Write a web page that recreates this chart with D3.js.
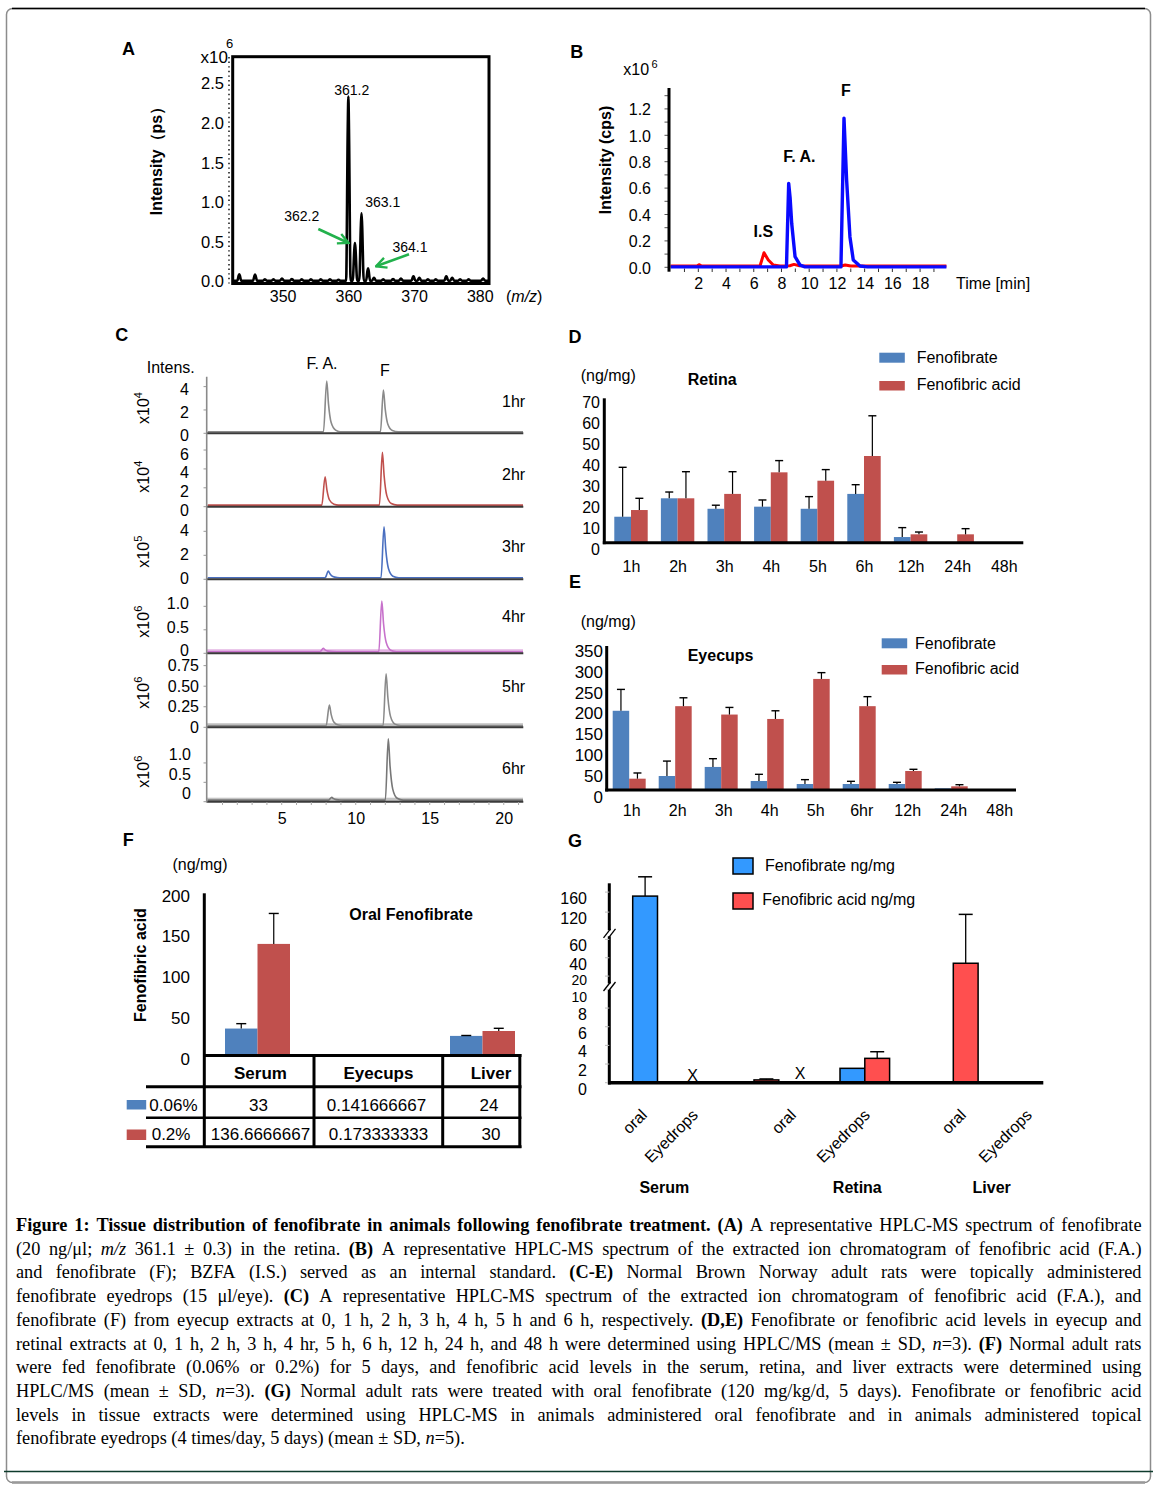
<!DOCTYPE html>
<html>
<head>
<meta charset="utf-8">
<script src="https://cdn.jsdelivr.net/npm/d3@7/dist/d3.min.js"></script>
<style>
html,body{margin:0;padding:0;background:#fff;}
svg{display:block;}
</style>
</head>
<body>
<script>
// ================= DATA =================
// Panel A: mass spectrum (m/z, intensity x10^6)
const aPeakMz  = [343.4, 345.8, 347.3, 348.6, 349.9, 351.4, 352.9, 354.3, 355.8, 357.2, 358.5, 360.0, 361.0, 362.0, 363.0, 363.9, 365.3, 366.8, 368.0, 369.9, 370.8, 372.1, 373.3, 374.9, 375.8, 377.0, 378.3, 380.5];
const aPeakInt = [0.085, 0.08, 0.02, 0.02, 0.03, 0.025, 0.02, 0.02, 0.02, 0.02, 0.015, 2.33, 0.48, 0.855, 0.16, 0.04, 0.02, 0.025, 0.03, 0.06, 0.04, 0.02, 0.02, 0.06, 0.04, 0.02, 0.02, 0.03];
const aYTicks = [0.0, 0.5, 1.0, 1.5, 2.0, 2.5];
const aXTicks = [350, 360, 370, 380];
const aAnnotations = ["361.2", "363.1", "362.2", "364.1"];

// Panel B: extracted ion chromatogram (time min, intensity x10^6)
const bXTicks = [2, 4, 6, 8, 10, 12, 14, 16, 18];
const bYTicks = [0.0, 0.2, 0.4, 0.6, 0.8, 1.0, 1.2];
const bBlueTime = [0, 8.36, 8.52, 8.62, 8.74, 8.98, 9.34, 9.7, 12.29, 12.51, 12.7, 12.94, 13.18, 13.66, 14.2, 19.9];
const bBlueInt  = [0.003, 0.003, 0.636, 0.53, 0.33, 0.08, 0.017, 0.003, 0.003, 1.13, 0.66, 0.23, 0.055, 0.01, 0.003, 0.003];
const bRedTime  = [0, 1.9, 2.05, 2.25, 6.45, 6.74, 7.05, 7.41, 7.89, 8.6, 8.9, 9.3, 12.3, 12.6, 13.0, 19.9];
const bRedInt   = [0.01, 0.01, 0.02, 0.01, 0.01, 0.11, 0.055, 0.017, 0.01, 0.012, 0.022, 0.012, 0.01, 0.018, 0.01, 0.01];
const bPeakLabels = ["I.S", "F. A.", "F"];

// Panel C: chromatograms at each time point
const cHours = ["1hr", "2hr", "3hr", "4hr", "5hr", "6hr"];
const cExponent = ["4", "4", "5", "6", "6", "6"];
const cTicks = [[0, 2, 4], [0, 2, 4, 6], [0, 2, 4], [0, 0.5, 1.0], [0, 0.25, 0.5, 0.75], [0, 0.5, 1.0]];
const cTickLabels = [["0", "2", "4"], ["0", "2", "4", "6"], ["0", "2", "4"], ["0", "0.5", "1.0"], ["0", "0.25", "0.50", "0.75"], ["0", "0.5", "1.0"]];
const cAxisMax = [4.85, 7.77, 6.05, 1.575, 0.9, 1.92];
const cFATime = [8.04, 7.93, 8.15, 7.81, 8.22, 8.38];
const cFAHeight = [4.34, 3.0, 0.55, 0.07, 0.25, 0.07];
const cFTime = [11.87, 11.8, 11.91, 11.76, 12.05, 12.2];
const cFHeight = [3.57, 5.58, 4.25, 1.08, 0.63, 1.58];
const cXTicks = [5, 10, 15, 20];

// Panel D: Retina (ng/mg)
const dCats = ["1h", "2h", "3h", "4h", "5h", "6h", "12h", "24h", "48h"];
const dFeno    = [12.4, 21.2, 16.2, 17.2, 16.2, 23.3, 2.7, 0.3, 0];
const dFenoSD  = [23.6, 3.0, 1.7, 3.2, 5.8, 4.4, 4.5, 0, 0];
const dAcid    = [15.6, 21.2, 23.3, 33.6, 29.6, 41.4, 4.0, 4.0, 0];
const dAcidSD  = [5.6, 12.7, 10.6, 5.6, 5.3, 19.2, 1.1, 2.7, 0];
const dYTicks = [0, 10, 20, 30, 40, 50, 60, 70];

// Panel E: Eyecups (ng/mg)
const eCats = ["1h", "2h", "3h", "4h", "5h", "6hr", "12h", "24h", "48h"];
const eFeno   = [189, 33.4, 55, 21.5, 14.3, 14.3, 14.3, 4, 0];
const eFenoSD = [51, 35.6, 19.7, 15.9, 10.4, 6.4, 4, 0, 0];
const eAcid   = [27, 200, 180, 169.5, 265, 200, 45.3, 8.8, 0];
const eAcidSD = [13.6, 20, 17, 19.5, 15, 22.7, 4.1, 3.9, 0];
const eYTicks = [0, 50, 100, 150, 200, 250, 300, 350];

// Panel F: Oral fenofibrate, fenofibric acid (ng/mg)
const fTissues = ["Serum", "Eyecups", "Liver"];
const fDoses = ["0.06%", "0.2%"];
const fLow    = [33, 0.141666667, 24];
const fLowSD  = [6, 0, 0.5];
const fHigh   = [136.6666667, 0.173333333, 30];
const fHighSD = [37.3, 0, 3.3];
const fYTicks = [0, 50, 100, 150, 200];

// Panel G: oral vs eyedrops (ng/mg); null = not shown
const gTissues = ["Serum", "Retina", "Liver"];
const gRoutes = ["oral", "Eyedrops", "oral", "Eyedrops", "oral", "Eyedrops"];
const gFeno    = [152, null, null, 1.54, null, null];
const gFenoSD  = [38.6, 0, 0, 0, 0, 0];
const gAcid    = [null, null, 0.3, 2.61, 34, null];
const gAcidSD  = [0, 0, 0.1, 0.71, 81, 0];
const gNotDetected = [1, 2];
const gYTicks = [0, 2, 4, 6, 8, 10, 20, 40, 60, 120, 160];
const gLegend = ["Fenofibrate ng/mg", "Fenofibric acid ng/mg"];

// Caption (** bold, _ italic)
const capLines = [
  "**Figure 1: Tissue distribution of fenofibrate in animals following fenofibrate treatment. (A)** A representative HPLC-MS spectrum of fenofibrate",
  "(20 ng/μl; _m/z_ 361.1 ± 0.3) in the retina. **(B)** A representative HPLC-MS spectrum of the extracted ion chromatogram of fenofibric acid (F.A.)",
  "and fenofibrate (F); BZFA (I.S.) served as an internal standard. **(C-E)** Normal Brown Norway adult rats were topically administered",
  "fenofibrate eyedrops (15 μl/eye). **(C)** A representative HPLC-MS spectrum of the extracted ion chromatogram of fenofibric acid (F.A.), and",
  "fenofibrate (F) from eyecup extracts at 0, 1 h, 2 h, 3 h, 4 h, 5 h and 6 h, respectively. **(D,E)** Fenofibrate or fenofibric acid levels in eyecup and",
  "retinal extracts at 0, 1 h, 2 h, 3 h, 4 hr, 5 h, 6 h, 12 h, 24 h, and 48 h were determined using HPLC/MS (mean ± SD, _n_=3). **(F)** Normal adult rats",
  "were fed fenofibrate (0.06% or 0.2%) for 5 days, and fenofibric acid levels in the serum, retina, and liver extracts were determined using",
  "HPLC/MS (mean ± SD, _n_=3). **(G)** Normal adult rats were treated with oral fenofibrate (120 mg/kg/d, 5 days). Fenofibrate or fenofibric acid",
  "levels in tissue extracts were determined using HPLC-MS in animals administered oral fenofibrate and in animals administered topical",
  "fenofibrate eyedrops (4 times/day, 5 days) (mean ± SD, _n_=5)."
];

// ================= DRAWING =================
const FONT = '"Liberation Sans", Arial, Helvetica, sans-serif';
const SERIF = '"Liberation Serif", "DejaVu Serif", "Times New Roman", serif';
const BLUE = "#4f81bd", RED = "#c0504d";

const svg = d3.select("body").append("svg")
  .attr("width", 1162).attr("height", 1490)
  .attr("font-family", FONT);

function T(parent, x, y, s, o = {}) {
  const t = parent.append("text").attr("x", x).attr("y", y)
    .attr("dy", o.dy !== undefined ? o.dy : "0.36em")
    .attr("font-size", o.size || 16)
    .attr("font-family", o.family || FONT)
    .attr("text-anchor", o.anchor || "start")
    .attr("fill", o.fill || "#000")
    .text(s);
  if (o.bold) t.attr("font-weight", "bold");
  if (o.italic) t.attr("font-style", "italic");
  if (o.rotate !== undefined) t.attr("transform", `rotate(${o.rotate},${x},${y})`);
  return t;
}
function L(parent, x1, y1, x2, y2, color, w, extra) {
  const l = parent.append("line").attr("x1", x1).attr("y1", y1).attr("x2", x2).attr("y2", y2)
    .attr("stroke", color || "#000").attr("stroke-width", w || 1);
  if (extra) extra(l);
  return l;
}
function styleAxis(g, size, bottom) {
  g.attr("font-family", FONT).attr("font-size", size);
  g.select(".domain").remove();
  g.selectAll(".tick line").remove();
  const t = g.selectAll(".tick text").attr("fill", "#000").attr("font-family", FONT)
    .attr("font-size", size).attr("dy", "0.36em");
  if (bottom) t.attr("y", 0); else t.attr("x", 0);
  return g;
}

// ---------- Frame ----------
svg.append("rect").attr("x", 6.5).attr("y", 8.5).attr("width", 1144).attr("height", 1474)
  .attr("rx", 6).attr("fill", "none").attr("stroke", "#8c8c8c").attr("stroke-width", 1.5);
L(svg, 12, 8.5, 1145, 8.5, "#000", 1.6);
L(svg, 12, 1482.5, 1145, 1482.5, "#9a9a9a", 2.5);
L(svg, 4, 1471.5, 1153, 1471.5, "#0e3b2c", 1.6);

// ---------- Panel letters ----------
[["A", 128.5, 49], ["B", 576.7, 51.7], ["C", 121.7, 335], ["D", 575, 336.7], ["E", 575, 581.7], ["F", 128.3, 840], ["G", 575, 841]]
  .forEach(p => T(svg, p[1], p[2], p[0], { size: 18, bold: true, anchor: "middle" }));

// ---------- Panel A ----------
(function () {
  const g = svg.append("g");
  const x = d3.scaleLinear().domain([342.4, 381.4]).range([232.7, 489]);
  const y = d3.scaleLinear().domain([0, 2.5]).range([281, 83]);
  const pts = [[342.6, 0.004]];
  aPeakMz.forEach((m, i) => {
    const h = aPeakInt[i], w = h > 0.3 ? 0.34 : 0.3;
    pts.push([m - w, 0.004], [m - w * 0.28, h * 0.82], [m, h], [m + w * 0.28, h * 0.82], [m + w, 0.004]);
  });
  pts.push([381.3, 0.004]);
  g.append("path").attr("d", d3.line().x(d => x(d[0])).y(d => y(d[1])).curve(d3.curveMonotoneX)(pts))
    .attr("fill", "none").attr("stroke", "#000").attr("stroke-width", 2.6).attr("stroke-linejoin", "round");
  g.append("rect").attr("x", 232.7).attr("y", 56.7).attr("width", 256.3).attr("height", 226.8)
    .attr("fill", "none").attr("stroke", "#000").attr("stroke-width", 3);
  L(g, 229, 57, 229, 283.5, "#000", 1.4, l => l.attr("stroke-dasharray", "1.4,3.2"));
  const ya = g.append("g").attr("transform", "translate(224,0)")
    .call(d3.axisLeft(y).tickValues(aYTicks).tickFormat(d3.format(".1f")).tickSize(0));
  styleAxis(ya, 16.5);
  const xa = g.append("g").attr("transform", "translate(0,296.7)")
    .call(d3.axisBottom(x).tickValues(aXTicks).tickFormat(d3.format("d")).tickSize(0));
  styleAxis(xa, 16, true);
  const mz = T(g, 506, 296.7, "(", { size: 16 });
  mz.append("tspan").text("m/z").attr("font-style", "italic");
  mz.append("tspan").text(")");
  T(g, 228, 57, "x10", { size: 17, anchor: "end" });
  T(g, 229.5, 43.3, "6", { size: 13, anchor: "middle" });
  T(g, 156.5, 157, "Intensity（ps）", { size: 16, bold: true, anchor: "middle", rotate: -90 });
  const ann = [[351.7, 89.5], [382.7, 202], [301.7, 216], [410, 247.3]];
  aAnnotations.forEach((s, i) => T(g, ann[i][0], ann[i][1], s, { size: 14, anchor: "middle" }));
  const defs = svg.append("defs");
  defs.append("marker").attr("id", "garrow").attr("viewBox", "0 0 10 10").attr("refX", 9).attr("refY", 5)
    .attr("markerWidth", 5).attr("markerHeight", 5).attr("orient", "auto")
    .append("path").attr("d", "M1,1 L9,5 L1,9").attr("fill", "none").attr("stroke", "#22b14c").attr("stroke-width", 1.8);
  L(g, 318.3, 229, 348.5, 243, "#22b14c", 2.6, l => l.attr("marker-end", "url(#garrow)"));
  L(g, 409, 254.3, 376, 266.3, "#22b14c", 2.6, l => l.attr("marker-end", "url(#garrow)"));
})();

// ---------- Panel B ----------
(function () {
  const g = svg.append("g");
  const x = d3.scaleLinear().domain([0, 20]).range([670.6, 947.8]);
  const y = d3.scaleLinear().domain([0, 1.2]).range([267.3, 108.9]);
  d3.range(1, 20).forEach(t => L(g, x(t), 268.5, x(t), 272, "#333", 1));
  d3.range(0, 1.35, 0.1).forEach(v => L(g, 664.5, y(v), 669, y(v), "#555", 1));
  const line = d3.line().x(d => x(d[0])).y(d => y(d[1]));
  g.append("path").attr("d", line(bRedTime.map((t, i) => [t, bRedInt[i]])))
    .attr("fill", "none").attr("stroke", "#ff0000").attr("stroke-width", 3).attr("stroke-linejoin", "round");
  g.append("path").attr("d", line(bBlueTime.map((t, i) => [t, bBlueInt[i]])))
    .attr("fill", "none").attr("stroke", "#0a0aff").attr("stroke-width", 3.4).attr("stroke-linejoin", "round");
  L(g, 669, 88, 669, 271.7, "#000", 3);
  const ya = g.append("g").attr("transform", "translate(651,0)")
    .call(d3.axisLeft(y).tickValues(bYTicks).tickFormat(d3.format(".1f")).tickSize(0));
  styleAxis(ya, 16);
  const xa = g.append("g").attr("transform", "translate(0,283.3)")
    .call(d3.axisBottom(x).tickValues(bXTicks).tickFormat(d3.format("d")).tickSize(0));
  styleAxis(xa, 16, true);
  T(g, 956, 283.3, "Time [min]", { size: 16 });
  T(g, 623.3, 69.5, "x10", { size: 16 });
  T(g, 654.5, 64.3, "6", { size: 11, anchor: "middle" });
  T(g, 605, 160, "Intensity (cps)", { size: 16, bold: true, anchor: "middle", rotate: -90 });
  const lp = [[763.3, 231.7], [799.3, 156], [846, 90.7]];
  bPeakLabels.forEach((s, i) => T(g, lp[i][0], lp[i][1], s, { size: 16, bold: true, anchor: "middle" }));
})();

// ---------- Panel C ----------
(function () {
  const g = svg.append("g");
  const x = d3.scaleLinear().domain([0, 21.3]).range([207.7, 523]);
  const base = [433.3, 506.7, 579.3, 653.3, 727.3, 801.7];
  const top0 = 376.7;
  const colors = ["#8a8a8a", "#c0504d", "#4a6fc0", "#c771cb", "#8a8a8a", "#777777"];
  const bands = [null, null, null, "#e2b0e2", "#bdbdbd", "#c4c4c4"];
  const labShift = [1.7, 3.3, -2, -3.3, -0.6, -9];
  const labRight = [189, 189, 189, 189, 199, 191];
  const hourY = [401.7, 474, 546, 616, 686.7, 768.3];
  const expY = [408, 476.7, 551.7, 621.7, 692.7, 771.7];
  cHours.forEach((h, i) => {
    const yb = base[i], yt = i === 0 ? top0 : base[i - 1];
    const y = d3.scaleLinear().domain([0, cAxisMax[i]]).range([yb, yt]);
    if (bands[i]) g.append("rect").attr("x", 207).attr("y", yb - 4).attr("width", 316).attr("height", 4).attr("fill", bands[i]);
    const fa = cFATime[i], hf = cFAHeight[i], ft = cFTime[i], hF = cFHeight[i];
    const pts = [[0, 0], [fa - 0.22, 0], [fa, hf], [fa + 0.12, 0.55 * hf], [fa + 0.3, 0.18 * hf], [fa + 0.6, 0.03 * hf], [fa + 0.9, 0],
      [ft - 0.2, 0], [ft, hF], [ft + 0.12, 0.55 * hF], [ft + 0.3, 0.18 * hF], [ft + 0.6, 0.03 * hF], [ft + 1.0, 0], [21.3, 0]];
    g.append("path").attr("transform", "translate(0,-1.6)")
      .attr("d", d3.line().x(d => x(d[0])).y(d => y(d[1])).curve(d3.curveMonotoneX)(pts))
      .attr("fill", "none").attr("stroke", colors[i]).attr("stroke-width", 1.6).attr("stroke-linejoin", "round");
    L(g, 206.7, yb, 523.3, yb, "#3a3a3a", 2);
    cTicks[i].forEach(v => L(g, 203.5, y(v), 206.7, y(v), "#999", 1));
    const ya = g.append("g").attr("transform", `translate(${labRight[i]},${labShift[i]})`)
      .call(d3.axisLeft(y).tickValues(cTicks[i]).tickFormat((d, k) => cTickLabels[i][k]).tickSize(0));
    styleAxis(ya, 16);
    T(g, 502, hourY[i], h, { size: 16 });
    const et = g.append("text").attr("transform", `translate(143.3,${expY[i]}) rotate(-90)`)
      .attr("text-anchor", "middle").attr("dy", "0.36em").attr("font-size", 16).attr("font-family", FONT);
    et.append("tspan").text("x10");
    et.append("tspan").text(cExponent[i]).attr("font-size", 11).attr("dy", "-0.6em");
  });
  L(g, 206.7, 376.7, 206.7, 802.5, "#8a8a8a", 1.6);
  d3.range(1, 22).forEach(t => L(g, x(t), 802, x(t), 805, "#aaa", 1));
  const xa = g.append("g").attr("transform", "translate(0,818.3)")
    .call(d3.axisBottom(x).tickValues(cXTicks).tickFormat(d3.format("d")).tickSize(0));
  styleAxis(xa, 16, true);
  T(g, 146.7, 367.7, "Intens.", { size: 16 });
  T(g, 322, 363.3, "F. A.", { size: 16, anchor: "middle" });
  T(g, 385, 370, "F", { size: 16, anchor: "middle" });
})();

// ---------- Panels D & E ----------
function timeBars(o) {
  const g = svg.append("g");
  const x0 = d3.scaleBand().domain(o.cats).range(o.xRange).paddingInner(0.283).paddingOuter(0.15);
  const x1 = d3.scaleBand().domain([0, 1]).range([0, x0.bandwidth()]);
  const y = d3.scaleLinear().domain(o.yDomain).range(o.yRange);
  const series = [o.s1, o.s2], sds = [o.e1, o.e2], cols = [BLUE, RED];
  series.forEach((vals, si) => {
    g.selectAll(null).data(o.cats).join("rect")
      .attr("x", c => x0(c) + x1(si)).attr("width", x1.bandwidth())
      .attr("y", (c, i) => y(vals[i])).attr("height", (c, i) => y(0) - y(vals[i]))
      .attr("fill", cols[si]);
  });
  series.forEach((vals, si) => {
    o.cats.forEach((c, i) => {
      const e = sds[si][i];
      if (!e) return;
      const cx = x0(c) + x1(si) + x1.bandwidth() / 2, yt = y(vals[i] + e);
      L(g, cx, y(vals[i]), cx, yt, "#000", 1.2);
      L(g, cx - 4, yt, cx + 4, yt, "#000", 1.4);
    });
  });
  L(g, o.axisX, o.axisTop, o.axisX, y(0) + 1.5, "#000", 3);
  L(g, o.axisX - 1.5, y(0), o.xEnd, y(0), "#000", 3);
  const ya = g.append("g").attr("transform", `translate(${o.tickRight},${o.labelShift})`)
    .call(d3.axisLeft(y).tickValues(o.ticks).tickSize(0));
  styleAxis(ya, o.tickFont);
  const xa = g.append("g").attr("transform", `translate(${o.catShift},${o.catY})`)
    .call(d3.axisBottom(x0).tickSize(0));
  styleAxis(xa, 16, true);
  const lg = o.legend;
  g.append("rect").attr("x", lg.x).attr("y", lg.y1).attr("width", 25.5).attr("height", 10).attr("fill", BLUE);
  g.append("rect").attr("x", lg.x).attr("y", lg.y2).attr("width", 25.5).attr("height", 9.5).attr("fill", RED);
  T(g, lg.tx, lg.y1 + 4.5, "Fenofibrate", { size: 16 });
  T(g, lg.tx, lg.y2 + 3.5, "Fenofibric acid", { size: 16 });
  T(g, 580.7, o.unitY, "(ng/mg)", { size: 16 });
  T(g, 687.7, o.titleY, o.title, { size: 16, bold: true });
}
timeBars({
  cats: dCats, s1: dFeno, e1: dFenoSD, s2: dAcid, e2: dAcidSD,
  xRange: [607.3, 1027.5], yDomain: [0, 70], yRange: [542.7, 396.1], ticks: dYTicks,
  axisX: 604.3, axisTop: 398.3, xEnd: 1023.3, tickRight: 600, labelShift: 6, tickFont: 16,
  catY: 566, catShift: 0.5,
  legend: { x: 879.3, y1: 352.7, y2: 381, tx: 916.7 }, unitY: 375, title: "Retina", titleY: 379.3
});
timeBars({
  cats: eCats, s1: eFeno, e1: eFenoSD, s2: eAcid, e2: eAcidSD,
  xRange: [605.8, 1020.6], yDomain: [0, 350], yRange: [790, 643.3], ticks: eYTicks,
  axisX: 606.7, axisTop: 646, xEnd: 1016, tickRight: 603, labelShift: 6.7, tickFont: 17,
  catY: 810.7, catShift: 2.5,
  legend: { x: 881.7, y1: 638.3, y2: 665, tx: 915 }, unitY: 621.7, title: "Eyecups", titleY: 655
});

// ---------- Panel F ----------
(function () {
  const g = svg.append("g");
  const y = d3.scaleLinear().domain([0, 200]).range([1055.5, 892.2]);
  const xc = d3.scaleOrdinal().domain(fTissues).range([257.5, 378.3, 482.5]);
  const bw = 32.5;
  const sets = [[fLow, fLowSD, BLUE, -bw], [fHigh, fHighSD, RED, 0]];
  sets.forEach(([vals, sd, col, off]) => {
    g.selectAll(null).data(fTissues).join("rect")
      .attr("x", t => xc(t) + off).attr("width", bw)
      .attr("y", (t, i) => y(vals[i])).attr("height", (t, i) => y(0) - y(vals[i]))
      .attr("fill", col);
    fTissues.forEach((t, i) => {
      if (!sd[i]) return;
      const cx = xc(t) + off + bw / 2, yt = y(vals[i] + sd[i]);
      L(g, cx, y(vals[i]), cx, yt, "#000", 1.2);
      L(g, cx - 5, yt, cx + 5, yt, "#000", 1.4);
    });
  });
  L(g, 204.3, 893.3, 204.3, 1148, "#000", 3);
  const ya = g.append("g").attr("transform", "translate(190,2.8)")
    .call(d3.axisLeft(y).tickValues(fYTicks).tickSize(0));
  styleAxis(ya, 17);
  L(g, 204.3, 1055.5, 521.5, 1055.5, "#000", 3);
  L(g, 146, 1086.7, 521.5, 1086.7, "#000", 3);
  L(g, 146, 1117.7, 521.5, 1117.7, "#000", 2.6);
  L(g, 146, 1146.7, 521.5, 1146.7, "#000", 3);
  [314, 442.7, 519.8].forEach(xv => L(g, xv, 1054, xv, 1148, "#000", 3));
  const colTx = [260.5, 378.5, 491];
  fTissues.forEach((t, i) => {
    T(g, colTx[i], 1073.3, t, { size: 17, bold: true, anchor: "middle" });
    T(g, colTx[i] - 2, 1105, String(fLow[i]), { size: 17, anchor: "middle" });
    T(g, colTx[i], 1134.3, String(fHigh[i]), { size: 17, anchor: "middle" });
  });
  g.append("rect").attr("x", 126.7).attr("y", 1100).attr("width", 19.5).attr("height", 9.5).attr("fill", BLUE);
  g.append("rect").attr("x", 126.7).attr("y", 1129.5).attr("width", 19.5).attr("height", 10.5).attr("fill", RED);
  T(g, 149.3, 1105, fDoses[0], { size: 17 });
  T(g, 151.7, 1134.3, fDoses[1], { size: 17 });
  T(g, 200, 864.3, "(ng/mg)", { size: 16, anchor: "middle" });
  T(g, 411, 914.3, "Oral Fenofibrate", { size: 16, bold: true, anchor: "middle" });
  T(g, 140.7, 965, "Fenofibric acid", { size: 16, bold: true, anchor: "middle", rotate: -90 });
})();

// ---------- Panel G ----------
(function () {
  const g = svg.append("g");
  const GB = "#3399ff", GR = "#ff4f4f";
  const y = d3.scaleLinear().domain([0, 10, 20, 60, 120, 160]).range([1082.7, 989.4, 976.1, 939.4, 912.1, 892.1]);
  const idx = d3.range(gRoutes.length);
  const px = d3.scaleOrdinal().domain(idx).range([632.7, 680, 729.2, 840, 928.5, 985]);
  const bw = 24.8;
  const sets = [[gFeno, gFenoSD, GB, 0], [gAcid, gAcidSD, GR, bw]];
  sets.forEach(([vals, sd, col, off]) => {
    g.selectAll(null).data(idx.filter(i => vals[i] !== null)).join("rect")
      .attr("x", i => px(i) + off).attr("width", bw)
      .attr("y", i => y(vals[i])).attr("height", i => y(0) - y(vals[i]))
      .attr("fill", col).attr("stroke", "#000").attr("stroke-width", 1.5);
    idx.forEach(i => {
      if (vals[i] === null || !sd[i]) return;
      const cx = px(i) + off + bw / 2, yt = y(vals[i] + sd[i]);
      L(g, cx, y(vals[i]), cx, yt, "#000", 1.3);
      L(g, cx - 7, yt, cx + 7, yt, "#000", 1.5);
    });
  });
  L(g, 609.3, 883.3, 609.3, 1084.5, "#000", 3);
  gYTicks.forEach(v => L(g, 605, y(v), 609.3, y(v), "#bbb", 1));
  [933.3, 986.5].forEach(yb => {
    g.append("rect").attr("x", 603).attr("y", yb - 3).attr("width", 14).attr("height", 6).attr("fill", "#fff");
    L(g, 603.5, yb + 4.5, 610.5, yb - 4.5, "#000", 1.3);
    L(g, 608.5, yb + 4.5, 615.5, yb - 4.5, "#000", 1.3);
  });
  L(g, 608, 1082.7, 1043.3, 1082.7, "#000", 3.6);
  const ya = g.append("g").attr("transform", "translate(587,5.6)")
    .call(d3.axisLeft(y).tickValues(gYTicks).tickFormat(d3.format("d")).tickSize(0));
  styleAxis(ya, 16);
  // the crowded labels either side of the lower axis break
  ya.selectAll(".tick text").filter(d => d === 20).attr("font-size", 14).attr("y", -2);
  ya.selectAll(".tick text").filter(d => d === 10).attr("font-size", 14).attr("y", 1.5);
  const xMarkPos = { 1: [692.7, 1075], 2: [800, 1073.3] };
  gNotDetected.forEach(i => T(g, xMarkPos[i][0], xMarkPos[i][1], "X", { size: 16, anchor: "middle" }));
  const labX = [648, 699, 797, 871, 967, 1033];
  gRoutes.forEach((r, i) => T(g, labX[i], 1116, r, { size: 16, anchor: "end", rotate: -45, dy: "0" }));
  const tisX = [664.3, 857.3, 991.7];
  gTissues.forEach((t, i) => T(g, tisX[i], 1187, t, { size: 16, bold: true, anchor: "middle" }));
  g.append("rect").attr("x", 733).attr("y", 858).attr("width", 20).attr("height", 16).attr("fill", GB).attr("stroke", "#000").attr("stroke-width", 1.5);
  g.append("rect").attr("x", 733).attr("y", 893).attr("width", 20).attr("height", 16).attr("fill", GR).attr("stroke", "#000").attr("stroke-width", 1.5);
  T(g, 765, 865, gLegend[0], { size: 16 });
  T(g, 762.3, 899.5, gLegend[1], { size: 16 });
})();

// ---------- Caption ----------
(function () {
  function parseWords(str) {
    const words = [];
    let cur = [], b = false, it = false, buf = "";
    const flush = () => { if (buf) { cur.push({ t: buf, b, i: it }); buf = ""; } };
    for (let k = 0; k < str.length; k++) {
      const ch = str[k];
      if (ch === "*" && str[k + 1] === "*") { flush(); b = !b; k++; continue; }
      if (ch === "_") { flush(); it = !it; continue; }
      if (ch === " ") { flush(); if (cur.length) words.push(cur); cur = []; continue; }
      buf += ch;
    }
    flush(); if (cur.length) words.push(cur);
    return words;
  }
  const x0 = 16, x1 = 1141.5, y0 = 1231, dy = 23.7, fs = 18.3;
  capLines.forEach((line, li) => {
    const words = parseWords(line);
    const yy = y0 + li * dy;
    const g = svg.append("g");
    const nodes = words.map(w => {
      const t = g.append("text").attr("y", yy).attr("font-family", SERIF).attr("font-size", fs).attr("fill", "#000");
      w.forEach(seg => {
        const ts = t.append("tspan").text(seg.t);
        if (seg.b) ts.attr("font-weight", "bold");
        if (seg.i) ts.attr("font-style", "italic");
      });
      return t;
    });
    const widths = nodes.map(n => n.node().getComputedTextLength());
    const total = d3.sum(widths);
    const last = li === capLines.length - 1;
    let gap = last ? fs * 0.25 : (x1 - x0 - total) / (words.length - 1);
    let sc = 1;
    if (gap < 3) { gap = 3; sc = (x1 - x0) / (total + gap * (words.length - 1)); }
    let xx = 0;
    nodes.forEach((n, i) => { n.attr("x", xx); xx += widths[i] + gap; });
    g.attr("transform", `translate(${x0},0) scale(${sc},1)`);
  });
})();
</script>
</body>
</html>
